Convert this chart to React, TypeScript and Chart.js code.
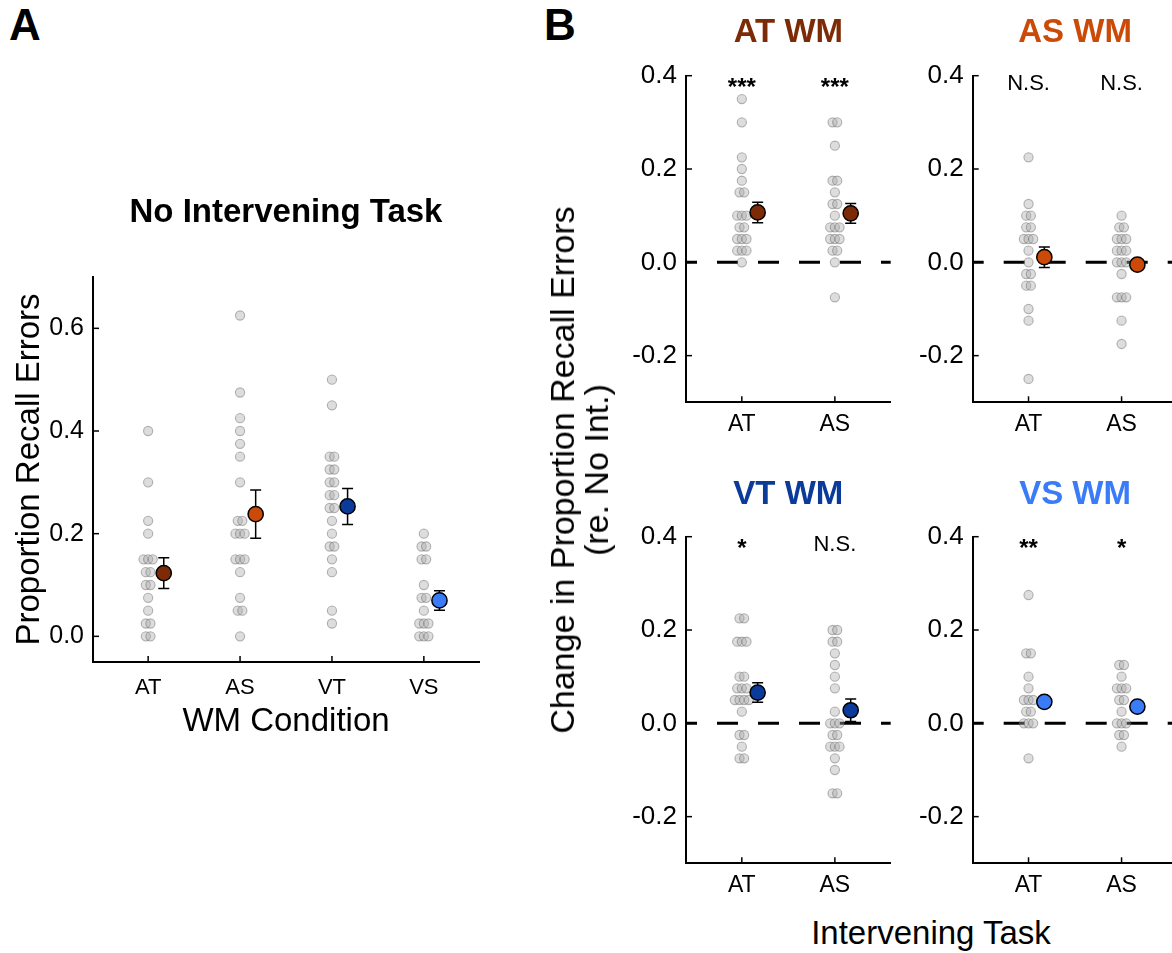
import React, { useEffect, useRef } from 'react';
import { Chart, registerables } from 'chart.js';

Chart.register(...registerables);

const FONT = '"Liberation Sans", Arial, Helvetica, sans-serif';

// ---------------- Panel A : No Intervening Task ----------------
const wmConditions = ['AT', 'AS', 'VT', 'VS'];
const wmColors = ['#7d2b06', '#cc4a08', '#0a3a9a', '#3a7cf8'];
const noIntAT = [0.4, 0.3, 0.225, 0.2, 0.15, 0.15, 0.15, 0.125, 0.125, 0.1, 0.1, 0.075, 0.05, 0.025, 0.025, 0, 0];
const noIntAS = [0.625, 0.475, 0.425, 0.4, 0.375, 0.35, 0.3, 0.225, 0.225, 0.2, 0.2, 0.2, 0.15, 0.15, 0.15, 0.125, 0.075, 0.05, 0.05, 0];
const noIntVT = [0.5, 0.45, 0.35, 0.35, 0.325, 0.325, 0.3, 0.3, 0.275, 0.275, 0.25, 0.25, 0.225, 0.2, 0.175, 0.175, 0.15, 0.125, 0.05, 0.025];
const noIntVS = [0.2, 0.175, 0.175, 0.15, 0.15, 0.1, 0.075, 0.075, 0.05, 0.025, 0.025, 0.025, 0, 0, 0];
const noIntMeans = [0.123, 0.238, 0.253, 0.07];
const noIntSems = [0.03, 0.047, 0.035, 0.019];
const yTicksA = [0, 0.2, 0.4, 0.6];

// ---------------- Panel B : change re. No Int. ----------------
const interveningTasks = ['AT', 'AS'];
const yTicksB = [-0.2, 0, 0.2, 0.4];

const atwmAT = [0.35, 0.3, 0.225, 0.2, 0.175, 0.15, 0.15, 0.1, 0.1, 0.1, 0.075, 0.075, 0.05, 0.05, 0.05, 0.025, 0.025, 0.025, 0];
const atwmAS = [0.3, 0.3, 0.25, 0.175, 0.175, 0.15, 0.125, 0.125, 0.1, 0.075, 0.075, 0.075, 0.05, 0.05, 0.05, 0.025, 0.025, 0, -0.075];
const atwmMeans = [0.107, 0.105];
const atwmSems = [0.022, 0.021];
const atwmSig = ['***', '***'];

const aswmAT = [0.225, 0.125, 0.1, 0.1, 0.075, 0.075, 0.05, 0.05, 0.05, 0.025, 0, -0.025, -0.025, -0.05, -0.05, -0.1, -0.125, -0.25];
const aswmAS = [0.1, 0.075, 0.075, 0.05, 0.05, 0.05, 0.025, 0.025, 0.025, 0, 0, 0, -0.025, -0.075, -0.075, -0.075, -0.125, -0.175];
const aswmMeans = [0.011, -0.005];
const aswmSems = [0.022, 0.01];
const aswmSig = ['N.S.', 'N.S.'];

const vtwmAT = [0.225, 0.225, 0.175, 0.175, 0.175, 0.1, 0.1, 0.075, 0.075, 0.075, 0.05, 0.05, 0.05, 0.05, 0.025, -0.025, -0.025, -0.05, -0.075, -0.075];
const vtwmAS = [0.2, 0.2, 0.175, 0.175, 0.15, 0.125, 0.1, 0.075, 0.025, 0, 0, 0, -0.025, -0.025, -0.05, -0.05, -0.05, -0.075, -0.1, -0.15, -0.15];
const vtwmMeans = [0.066, 0.028];
const vtwmSems = [0.021, 0.024];
const vtwmSig = ['*', 'N.S.'];

const vswmAT = [0.275, 0.15, 0.15, 0.1, 0.075, 0.05, 0.05, 0.05, 0.025, 0.025, 0, 0, 0, -0.075];
const vswmAS = [0.125, 0.125, 0.1, 0.075, 0.075, 0.075, 0.05, 0.05, 0.025, 0, 0, 0, -0.025, -0.025, -0.05];
const vswmMeans = [0.046, 0.036];
const vswmSems = [0.01, 0.01];
const vswmSig = ['**', '*'];

// ---------------- helpers ----------------
const SWARM_STEP = 0.05;
const MEAN_SHIFT = 0.17;

function swarmOffsets(values: number[], step: number): number[] {
  const counts = new Map<number, number>();
  values.forEach((v) => counts.set(v, (counts.get(v) || 0) + 1));
  const seen = new Map<number, number>();
  return values.map((v) => {
    const k = counts.get(v) as number;
    const j = seen.get(v) || 0;
    seen.set(v, j + 1);
    return (j - (k - 1) / 2) * step;
  });
}

type PanelProps = {
  left: number; top: number; width: number; height: number;
  yAxisWidth: number; xAxisHeight: number; padRight: number;
  title: string; titleColor: string; titleSize: number; titlePad: [number, number];
  categories: string[]; groups: number[][]; means: number[]; sems: number[]; meanColors: string[];
  sig?: string[]; zeroLine?: boolean;
  yMin: number; yMax: number; yTicks: number[];
  yTickSize: number; xTickSize: number; xTickPad: number;
  yTitle?: string; xTitle?: string; axisTitleSize?: number; yTitlePad?: number; xTitlePad?: number;
};

function Panel(p: PanelProps) {
  const ref = useRef<HTMLCanvasElement>(null);
  useEffect(() => {
    const canvas = ref.current as HTMLCanvasElement;
    const n = p.categories.length;
    const grey = p.groups.flatMap((vals, i) => {
      const offs = swarmOffsets(vals, SWARM_STEP);
      return vals.map((v, j) => ({ x: i + offs[j], y: v }));
    });
    const meanPts = p.means.map((m, i) => ({ x: i + MEAN_SHIFT, y: m }));

    const extras = {
      id: 'panelExtras',
      beforeDatasetsDraw(chart: any) {
        if (!p.zeroLine) return;
        const { ctx, chartArea: ca, scales } = chart;
        const y = scales.y.getPixelForValue(0);
        ctx.save();
        ctx.strokeStyle = '#000';
        ctx.lineWidth = 3;
        ctx.setLineDash([21, 20]);
        ctx.lineDashOffset = 10;
        ctx.beginPath();
        ctx.moveTo(ca.left, y);
        ctx.lineTo(ca.right, y);
        ctx.stroke();
        ctx.restore();
      },
      afterDatasetDraw(chart: any, args: any) {
        if (args.index !== 0) return;
        const { ctx, scales } = chart;
        ctx.save();
        ctx.strokeStyle = '#000';
        ctx.lineWidth = 1.5;
        p.means.forEach((m, i) => {
          const x = scales.x.getPixelForValue(i + MEAN_SHIFT);
          const y1 = scales.y.getPixelForValue(m - p.sems[i]);
          const y2 = scales.y.getPixelForValue(m + p.sems[i]);
          ctx.beginPath();
          ctx.moveTo(x, y1); ctx.lineTo(x, y2);
          ctx.moveTo(x - 5.5, y1); ctx.lineTo(x + 5.5, y1);
          ctx.moveTo(x - 5.5, y2); ctx.lineTo(x + 5.5, y2);
          ctx.stroke();
        });
        ctx.restore();
      },
      afterDraw(chart: any) {
        const { ctx, chartArea: ca, scales } = chart;
        ctx.save();
        ctx.strokeStyle = '#000';
        ctx.lineWidth = 1.5;
        scales.y.ticks.forEach((t: any) => {
          const y = scales.y.getPixelForValue(t.value);
          ctx.beginPath(); ctx.moveTo(ca.left, y); ctx.lineTo(ca.left + 6, y); ctx.stroke();
        });
        scales.x.ticks.forEach((t: any) => {
          const x = scales.x.getPixelForValue(t.value);
          ctx.beginPath(); ctx.moveTo(x, ca.bottom); ctx.lineTo(x, ca.bottom - 6); ctx.stroke();
        });
        if (p.sig) {
          ctx.fillStyle = '#000';
          ctx.textAlign = 'center';
          ctx.textBaseline = 'alphabetic';
          p.sig.forEach((s, i) => {
            const x = scales.x.getPixelForValue(i);
            const star = s.indexOf('*') >= 0;
            ctx.font = star ? `bold 24px ${FONT}` : `22px ${FONT}`;
            ctx.fillText(s, x, ca.top + (star ? 19.5 : 14));
          });
        }
        ctx.restore();
      },
    };

    const chart = new Chart(canvas, {
      type: 'scatter',
      data: {
        datasets: [
          {
            data: grey, order: 2, pointRadius: 4.6,
            backgroundColor: 'rgba(170,170,170,0.4)', borderColor: 'rgba(85,85,85,0.42)', borderWidth: 1.1,
          },
          {
            data: meanPts, order: 1, pointRadius: 7.6,
            backgroundColor: p.meanColors, borderColor: '#000', borderWidth: 1.5,
          },
        ],
      },
      options: {
        responsive: false,
        animation: false,
        events: [],
        layout: { padding: { left: 0, right: p.padRight, top: 0, bottom: 0 } },
        plugins: {
          legend: { display: false },
          tooltip: { enabled: false },
          title: {
            display: true, text: p.title, color: p.titleColor, fullSize: false,
            font: { family: FONT, size: p.titleSize, weight: 'bold' },
            padding: { top: p.titlePad[0], bottom: p.titlePad[1] },
          },
        },
        scales: {
          x: {
            type: 'linear', min: -0.6, max: n - 0.4,
            afterBuildTicks: (axis: any) => { axis.ticks = p.categories.map((_, i) => ({ value: i })); },
            afterFit: (s: any) => { s.height = p.xAxisHeight; },
            ticks: {
              callback: (v: any) => p.categories[Math.round(Number(v))],
              font: { family: FONT, size: p.xTickSize }, color: '#000', padding: p.xTickPad,
              autoSkip: false, maxRotation: 0,
            },
            grid: { display: false, drawTicks: false },
            border: { display: true, color: '#000', width: 2 },
            title: p.xTitle
              ? { display: true, text: p.xTitle, color: '#000', font: { family: FONT, size: p.axisTitleSize }, padding: { top: 0, bottom: p.xTitlePad } }
              : { display: false },
          },
          y: {
            type: 'linear', min: p.yMin, max: p.yMax,
            afterBuildTicks: (axis: any) => { axis.ticks = p.yTicks.map((v) => ({ value: v })); },
            afterFit: (s: any) => { s.width = p.yAxisWidth; },
            ticks: {
              callback: (v: any) => Number(v).toFixed(1),
              font: { family: FONT, size: p.yTickSize }, color: '#000', padding: 9, autoSkip: false,
            },
            grid: { display: false, drawTicks: false },
            border: { display: true, color: '#000', width: 2 },
            title: p.yTitle
              ? { display: true, text: p.yTitle, color: '#000', font: { family: FONT, size: p.axisTitleSize }, padding: { top: p.yTitlePad, bottom: 0 } }
              : { display: false },
          },
        },
      } as any,
      plugins: [extras],
    });
    return () => chart.destroy();
  }, []);
  return (
    <canvas
      ref={ref}
      width={p.width}
      height={p.height}
      style={{ position: 'absolute', left: p.left, top: p.top, width: p.width, height: p.height }}
    />
  );
}

function Label(props: { x: number; y: number; size: number; text: string; bold?: boolean; color?: string; center?: boolean }) {
  const { x, y, size, text, bold, color, center } = props;
  return (
    <div
      style={{
        position: 'absolute', left: x, top: y - 0.8465 * size, fontSize: size, lineHeight: `${size}px`,
        fontWeight: bold ? 'bold' : 'normal', color: color || '#000', whiteSpace: 'nowrap', fontFamily: FONT,
        transform: center ? 'translateX(-50%)' : undefined,
      }}
    >
      {text}
    </div>
  );
}

const bCommon = {
  width: 300, padRight: 9.3, categories: interveningTasks, zeroLine: true,
  yMin: -0.3, yMax: 0.4, yTicks: yTicksB, yTickSize: 26, xTickSize: 23, xTickPad: 9, titleSize: 33,
};

export default function App() {
  return (
    <div style={{ position: 'fixed', left: 0, top: 0, width: 1172, height: 953, overflow: 'hidden', background: '#fff', fontFamily: FONT }}>
      <Label x={9} y={40} size={44} bold text="A" />
      <Label x={544} y={40} size={44} bold text="B" />

      <Panel
        left={0} top={150} width={500} height={620} yAxisWidth={93} xAxisHeight={108} padRight={21}
        title="No Intervening Task" titleColor="#000" titleSize={33} titlePad={[43.2, 44.2]}
        categories={wmConditions} groups={[noIntAT, noIntAS, noIntVT, noIntVS]}
        means={noIntMeans} sems={noIntSems} meanColors={wmColors}
        yMin={-0.05} yMax={0.7} yTicks={yTicksA} yTickSize={25} xTickSize={22} xTickPad={13}
        yTitle="Proportion Recall Errors" xTitle="WM Condition" axisTitleSize={33} yTitlePad={10} xTitlePad={28}
      />

      <Panel {...bCommon} left={600} top={0} height={460} yAxisWidth={86} xAxisHeight={57.7}
        title="AT WM" titleColor={wmColors[0]} titlePad={[13.2, 22.9]}
        groups={[atwmAT, atwmAS]} means={atwmMeans} sems={atwmSems} meanColors={[wmColors[0], wmColors[0]]} sig={atwmSig} />
      <Panel {...bCommon} left={890} top={0} height={460} yAxisWidth={82.7} padRight={12.6} xAxisHeight={57.7}
        title="AS WM" titleColor={wmColors[1]} titlePad={[13.2, 22.9]}
        groups={[aswmAT, aswmAS]} means={aswmMeans} sems={aswmSems} meanColors={[wmColors[1], wmColors[1]]} sig={aswmSig} />
      <Panel {...bCommon} left={600} top={460} height={440} yAxisWidth={86} xAxisHeight={36.7}
        title="VT WM" titleColor={wmColors[2]} titlePad={[14.7, 22.4]}
        groups={[vtwmAT, vtwmAS]} means={vtwmMeans} sems={vtwmSems} meanColors={[wmColors[2], wmColors[2]]} sig={vtwmSig} />
      <Panel {...bCommon} left={890} top={460} height={440} yAxisWidth={82.7} padRight={12.6} xAxisHeight={36.7}
        title="VS WM" titleColor={wmColors[3]} titlePad={[14.7, 22.4]}
        groups={[vswmAT, vswmAS]} means={vswmMeans} sems={vswmSems} meanColors={[wmColors[3], wmColors[3]]} sig={vswmSig} />

      <div
        style={{
          position: 'absolute', left: 578.6, top: 470, transform: 'translate(-50%,-50%) rotate(-90deg)',
          fontSize: 34, lineHeight: '34px', textAlign: 'center', whiteSpace: 'pre', fontFamily: FONT, color: '#000',
        }}
      >
        {'Change in Proportion Recall Errors\n(re. No Int.)'}
      </div>
      <Label x={931} y={943.6} size={33} center text="Intervening Task" />
    </div>
  );
}
